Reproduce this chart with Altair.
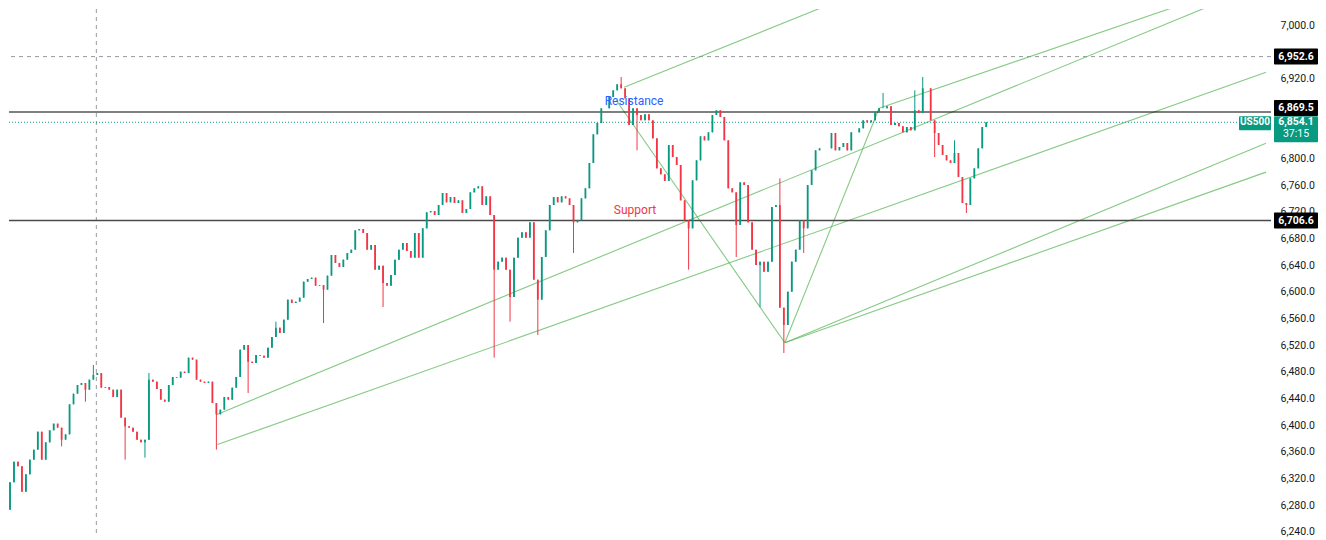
import altair as alt
import pandas as pd

# ---------------- data ----------------
close = [
    6273, 6314, 6345, 6338, 6300, 6326, 6348, 6363, 6390, 6348,
    6374, 6392, 6402, 6396, 6378, 6386, 6431, 6447, 6460, 6463,
    6453, 6468, 6475, 6478, 6456, 6457, 6453, 6442, 6453, 6411,
    6398, 6396, 6390, 6378, 6374, 6378, 6468, 6465, 6454, 6438,
    6435, 6460, 6472, 6471, 6480, 6478, 6501, 6498, 6468, 6465,
    6463, 6465, 6433, 6416, 6423, 6442, 6438, 6456, 6472, 6513,
    6520, 6495, 6493, 6505, 6504, 6501, 6516, 6532, 6546, 6538,
    6558, 6588, 6583, 6585, 6591, 6615, 6619, 6621, 6609, 6610,
    6603, 6624, 6655, 6643, 6637, 6648, 6658, 6663, 6692, 6694,
    6688, 6663, 6670, 6633, 6639, 6613, 6609, 6625, 6648, 6663,
    6673, 6661, 6651, 6688, 6651, 6695, 6719, 6721, 6715, 6730,
    6748, 6734, 6742, 6733, 6737, 6718, 6724, 6749, 6755, 6758,
    6730, 6743, 6715, 6633, 6645, 6651, 6633, 6592, 6651, 6681,
    6689, 6681, 6704, 6618, 6588, 6652, 6692, 6730, 6742, 6734,
    6743, 6740, 6730, 6704, 6707, 6740, 6755, 6793, 6836, 6853,
    6875, 6875, 6892, 6902, 6911, 6905, 6890, 6850, 6875, 6865,
    6857, 6866, 6857, 6830, 6785, 6776, 6766, 6820, 6802, 6790,
    6737, 6707, 6695, 6767, 6797, 6833, 6827, 6839, 6865, 6872,
    6862, 6827, 6755, 6749, 6700, 6764, 6760, 6704, 6663, 6640,
    6645, 6630, 6645, 6727, 6730, 6576, 6550, 6600, 6645, 6663,
    6707, 6695, 6760, 6782, 6812, 6815, 6815, 6815, 6838, 6812,
    6817, 6823, 6812, 6839, 6839, 6845, 6857, 6854, 6857, 6869,
    6875, 6875, 6878, 6850, 6853, 6848, 6839, 6847, 6842, 6872,
    6868, 6905, 6905, 6857, 6838, 6820, 6805, 6797, 6793, 6808,
    6772, 6733, 6730, 6770, 6785, 6815, 6847, 6854.1,
]
first_open = 6290

low_spike_idx = [0, 14, 20, 30, 35, 53, 61, 80, 95, 123, 127, 134, 143,
                 159, 172, 184, 190, 196, 201, 234, 242]
low_spike = [6254, 6368, 6435, 6348, 6351, 6363, 6448, 6553, 6577, 6501,
             6555, 6535, 6658, 6812, 6633, 6652, 6577, 6508, 6658, 6802, 6718]
high_spike_idx = [22, 36, 68, 155, 195, 221, 229, 231, 239]
high_spike = [6490, 6478, 6555, 6922, 6770, 6898, 6902, 6922, 6827]

# drawn trend lines (bar index, price)
trend_x1 = [53.0, 53.25, 155.75, 220.0, 196.25, 196.25, 153.75, 196.25]
trend_p1 = [6415.5, 6370.6, 6906.6, 6875.1, 6523.3, 6523.3, 6887.1, 6523.3]
trend_x2 = [306.75, 317.5, 210.0, 299.25, 317.5, 317.5, 196.25, 220.0]
trend_p2 = [7036.8, 6929.0, 7036.8, 7036.8, 6822.7, 6779.3, 6523.3, 6875.1]

dashed_level = [6952.6]
resistance_level = [6869.5]
last_price = [6854.1]
support_level = [6706.6]
vline_idx = [22.75]

note_text = ["Resistance", "Support"]
note_idx = [158.25, 158.5]
note_price = [6885.6, 6722.4]

# visible axis labels (those hidden under the price tags are left out)
axis_ticks = [6240, 6280, 6320, 6360, 6400, 6440, 6480, 6520, 6560, 6600,
              6640, 6680, 6720, 6760, 6800, 6920, 7000]

symbol = "US500"
countdown = "37:15"

# ---------------- build tables ----------------
opens = [first_open] + close[:-1]
highs = [max(o, c) for o, c in zip(opens, close)]
lows = [min(o, c) for o, c in zip(opens, close)]
for i, v in zip(low_spike_idx, low_spike):
    lows[i] = min(lows[i], v)
for i, v in zip(high_spike_idx, high_spike):
    highs[i] = max(highs[i], v)

candles = pd.DataFrame({
    "idx": list(range(len(close))),
    "open": opens, "close": close, "high": highs, "low": lows,
})
candles["dir"] = ["up" if c >= o else "down" for o, c in zip(opens, close)]

trends = pd.DataFrame({"x1": trend_x1, "p1": trend_p1, "x2": trend_x2, "p2": trend_p2})

W, H = 1262, 524
YMIN, YMAX = 6238.0, 7024.0
K = (YMAX - YMIN) / H  # price per pixel

xs = alt.Scale(domain=[2, 317.5], nice=False, zero=False)
ys = alt.Scale(domain=[YMIN, YMAX], nice=False, zero=False)
yaxis = alt.Axis(orient="right", values=axis_ticks, format=",.1f", title=None,
                 grid=False, domain=False, ticks=False, labelPadding=9,
                 labelFont="Roboto", labelFontSize=10.5, labelColor="#131722",
                 labelOverlap=False, labelFlush=False)


def X(f):
    return alt.X(f, type="quantitative", scale=xs, axis=None)


def Y(f):
    return alt.Y(f, type="quantitative", scale=ys, axis=yaxis)


col = alt.Color("dir:N", scale=alt.Scale(domain=["up", "down"], range=["#089981", "#F23645"]), legend=None)

vline = alt.Chart(pd.DataFrame({"idx": vline_idx})).mark_rule(
    color="#9598a1", strokeDash=[4, 4], strokeWidth=1).encode(x=X("idx"))

dash_line = alt.Chart(pd.DataFrame({"p": dashed_level})).mark_rule(
    color="#9598a1", strokeDash=[4, 4], strokeWidth=1).encode(y=Y("p"))

res_line = alt.Chart(pd.DataFrame({"p": resistance_level})).mark_rule(
    color="#000000", strokeWidth=1.2).encode(y=Y("p"))

sup_line = alt.Chart(pd.DataFrame({"p": support_level})).mark_rule(
    color="#4a4a4a", strokeWidth=1.5).encode(y=Y("p"))

last_line = alt.Chart(pd.DataFrame({"p": last_price})).mark_rule(
    color="#089981", strokeDash=[1, 2], strokeWidth=1).encode(
    x=alt.value(0), x2=alt.value(1230), y=Y("p"))

trend = alt.Chart(trends).mark_rule(color="#5cb85c", strokeWidth=1.1, opacity=0.75, clip=True).encode(
    x=X("x1"), x2="x2", y=Y("p1"), y2="p2")

wicks = alt.Chart(candles).mark_rule(strokeWidth=1, clip=True).encode(
    x=X("idx"), y=Y("low"), y2="high", color=col)

bodies = alt.Chart(candles).mark_bar(size=1.8, clip=True).encode(
    x=X("idx"), y=Y("open"), y2="close", color=col)

notes = pd.DataFrame({"t": note_text, "idx": note_idx, "p": note_price,
                      "c": ["#2962FF", "#F23645"]})
note_layer = alt.Chart(notes).mark_text(font="Roboto", fontSize=12, baseline="middle").encode(
    x=X("idx"), y=Y("p"), text="t:N", color=alt.Color("c:N", scale=None))

# price labels on the axis
blk = pd.DataFrame({"p": dashed_level + resistance_level + support_level,
                    "shift": [0, 4, 0]})
blk["label"] = [f"{v:,.1f}" for v in blk["p"]]
blk["top"] = blk["p"] + (8 + blk["shift"]) * K
blk["bot"] = blk["p"] - (8 - blk["shift"]) * K
blk["tp"] = blk["p"] + blk["shift"] * K

blk_rect = alt.Chart(blk).mark_rect(color="#000000", cornerRadius=1).encode(
    x=alt.value(1265), x2=alt.value(1309), y=Y("top"), y2="bot")
blk_text = alt.Chart(blk).mark_text(color="white", font="Roboto", fontSize=10.5,
                                    fontWeight="bold", baseline="middle").encode(
    x=alt.value(1287), y=Y("tp"), text="label:N")

lp = pd.DataFrame({"p": last_price})
lp["label"] = [f"{v:,.1f}" for v in lp["p"]]
lp["cd"] = [countdown]
lp["sym"] = [symbol]
lp["top"] = lp["p"] + 6 * K
lp["bot"] = lp["p"] - 20 * K
lp["bot2"] = lp["p"] - 8 * K
lp["p2"] = lp["p"] - 12 * K

lp_rect = alt.Chart(lp).mark_rect(color="#089981", cornerRadius=1).encode(
    x=alt.value(1265), x2=alt.value(1309), y=Y("top"), y2="bot")
lp_text = alt.Chart(lp).mark_text(color="white", font="Roboto", fontSize=10.5,
                                  fontWeight="bold", baseline="middle").encode(
    x=alt.value(1287), y=Y("p"), text="label:N")
cd_text = alt.Chart(lp).mark_text(color="white", font="Roboto", fontSize=10.5,
                                  baseline="middle").encode(
    x=alt.value(1287), y=Y("p2"), text="cd:N")
sym_rect = alt.Chart(lp).mark_rect(color="#089981", cornerRadius=1).encode(
    x=alt.value(1230), x2=alt.value(1262), y=Y("top"), y2="bot2")
sym_text = alt.Chart(lp).mark_text(color="white", font="Roboto", fontSize=10,
                                   fontWeight="bold", baseline="middle").encode(
    x=alt.value(1246), y=Y("p"), text="sym:N")

chart = alt.layer(
    vline, dash_line, trend, sup_line, res_line, last_line,
    wicks, bodies, note_layer,
    blk_rect, blk_text, lp_rect, lp_text, cd_text, sym_rect, sym_text,
).properties(
    width=W, height=H, padding={"left": 0, "top": 0, "right": 0, "bottom": 0},
    background="white",
).configure_view(strokeWidth=0)

chart.save("out.html", embed_options={"renderer": "svg", "actions": False})
